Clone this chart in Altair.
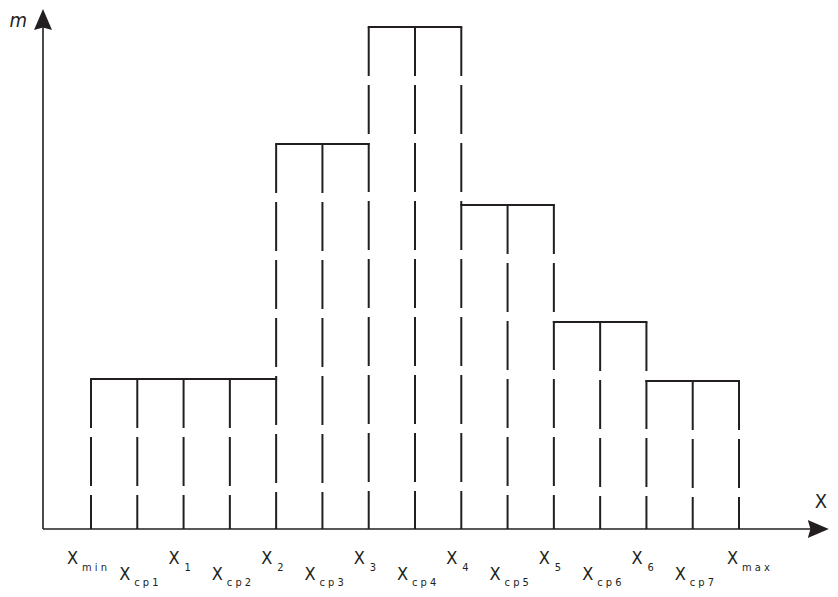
import altair as alt
import pandas as pd

# ---------------- data ----------------
sub_texts = ["m i n", "c p 1", "1", "c p 2", "2", "c p 3", "3", "c p 4",
             "4", "c p 5", "5", "c p 6", "6", "c p 7", "m a x"]
# heights of the 7 intervals [xmin,x1],[x1,x2],[x2,x3],...,[x6,xmax]
interval_heights = [3.0, 3.0, 7.7, 10.04, 6.48, 4.14, 2.96]

# ---------------- geometry / style ----------------
COL = "#231f20"
FONT = "Liberation Sans Narrow, DejaVu Sans Condensed, Roboto Condensed, Roboto, sans-serif"
W, H = 822, 521
PX_X, PX_M = 46.286, 50.0
XA = -83 / PX_X
XB = XA + W / PX_X
YT = H / PX_M
AX_X = -1.037          # position of the vertical axis
X_TIP = 15.94          # tip of the horizontal arrow
Y_TIP = 10.40          # tip of the vertical arrow

n = len(sub_texts)
tops = []
for i in range(n):
    if i % 2 == 1:
        tops.append(interval_heights[i // 2])
    else:
        cand = []
        if i // 2 - 1 >= 0:
            cand.append(interval_heights[i // 2 - 1])
        if i // 2 < len(interval_heights):
            cand.append(interval_heights[i // 2])
        tops.append(max(cand))

kinds = []
for i in range(n):
    if i == 0:
        kinds.append("min")
    elif i == n - 1:
        kinds.append("max")
    elif i % 2 == 1:
        kinds.append("cp")
    else:
        kinds.append("num")

verts = pd.DataFrame({"pos": list(range(n)), "top": tops})
bars = pd.DataFrame({
    "x0": [2 * k for k in range(len(interval_heights))],
    "x1": [2 * k + 2 for k in range(len(interval_heights))],
    "m": interval_heights,
})
labels = pd.DataFrame({"pos": list(range(n)), "sub": sub_texts, "kind": kinds})
one = pd.DataFrame({"a": [0]})

xs = alt.Scale(domain=[XA, XB], nice=False, zero=False)
ys = alt.Scale(domain=[0, YT], nice=False, zero=False)

vlines = alt.Chart(verts).mark_rule(
    color=COL, strokeWidth=2, strokeDash=[49, 9]
).encode(
    x=alt.X("pos:Q", scale=xs,
            axis=alt.Axis(values=list(range(n)), tickSize=15, tickWidth=2,
                          tickColor=COL, labels=False, domain=False,
                          grid=False, title=None)),
    y=alt.Y("top:Q", scale=ys, axis=None),
    y2=alt.datum(0),
)

hlines = alt.Chart(bars).mark_rule(color=COL, strokeWidth=2, strokeCap="square").encode(
    x=alt.X("x0:Q", scale=xs, axis=None),
    x2="x1:Q",
    y=alt.Y("m:Q", scale=ys, axis=None),
)

xaxis = alt.Chart(one).mark_rule(color=COL, strokeWidth=1.6).encode(
    x=alt.datum(AX_X, scale=xs), x2=alt.datum(X_TIP - 0.3), y=alt.datum(0, scale=ys)
)
yaxis = alt.Chart(one).mark_rule(color=COL, strokeWidth=1.6).encode(
    x=alt.datum(AX_X, scale=xs), y=alt.datum(0, scale=ys), y2=alt.datum(Y_TIP - 0.3)
)

arrow_r = alt.Chart(one).mark_point(
    shape="M1,0L-1,-0.857L-0.75,0L-1,0.857Z", size=441, filled=True,
    color=COL, opacity=1, xOffset=-10.5
).encode(x=alt.datum(X_TIP, scale=xs), y=alt.datum(0, scale=ys))

arrow_u = alt.Chart(one).mark_point(
    shape="M0,-1L0.857,1L0,0.75L-0.857,1Z", size=441, filled=True,
    color=COL, opacity=1, yOffset=10.5
).encode(x=alt.datum(AX_X, scale=xs), y=alt.datum(Y_TIP, scale=ys))

m_label = alt.Chart(one).mark_text(
    text="m", font=FONT, fontSize=20, fontStyle="italic", color=COL,
    align="left", baseline="alphabetic"
).encode(x=alt.datum(-1.76, scale=xs), y=alt.datum(10.04, scale=ys))

x_label = alt.Chart(one).mark_text(
    text="X", font=FONT, fontSize=20, color=COL,
    align="center", baseline="alphabetic"
).encode(x=alt.datum(15.77, scale=xs), y=alt.datum(0.42, scale=ys))

# tick labels: main "X" and subscript, per label kind
offsets = {
    "min": (-24, -9, 35, 42),
    "num": (-15, 1, 35, 42),
    "cp": (-18, -3, 51, 57),
    "max": (-12, 3, 35, 42),
}
label_layers = []
for kind, (dx_main, dx_sub, dy_main, dy_sub) in offsets.items():
    base = alt.Chart(labels).transform_filter(alt.datum.kind == kind)
    label_layers.append(
        base.mark_text(text="X", font=FONT, fontSize=18, color=COL,
                       align="left", baseline="alphabetic",
                       dx=dx_main, dy=dy_main).encode(
            x=alt.X("pos:Q", scale=xs, axis=None),
            y=alt.datum(0, scale=ys),
        )
    )
    label_layers.append(
        base.mark_text(font=FONT, fontSize=11, color=COL,
                       align="left", baseline="alphabetic",
                       dx=dx_sub, dy=dy_sub).encode(
            x=alt.X("pos:Q", scale=xs, axis=None),
            y=alt.datum(0, scale=ys),
            text="sub:N",
        )
    )

chart = alt.layer(
    vlines, hlines, xaxis, yaxis, arrow_r, arrow_u, m_label, x_label, *label_layers
).properties(
    width=W, height=H,
    padding={"left": 0, "top": 0, "right": 0, "bottom": 61},
    autosize=alt.AutoSizeParams(type="none"),
    background="white",
).configure_view(stroke=None)

chart.save("out.html", embed_options={"renderer": "svg", "actions": False})
